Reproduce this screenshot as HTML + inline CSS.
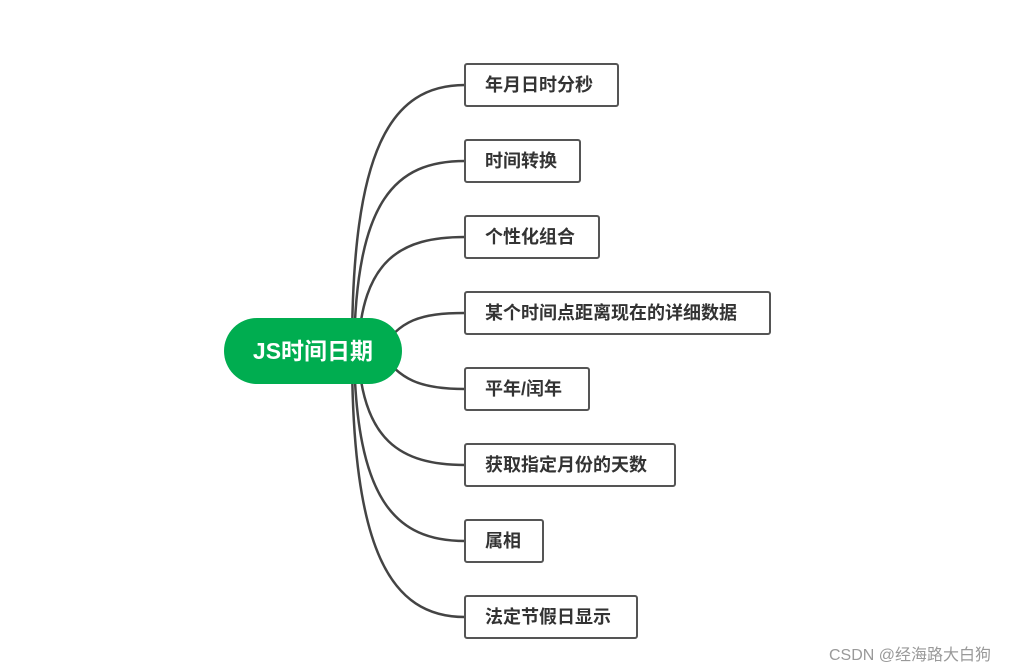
<!DOCTYPE html>
<html><head><meta charset="utf-8"><style>
body{margin:0;width:1035px;height:671px;background:#fff;position:relative;overflow:hidden;font-family:"Liberation Sans","Noto Sans CJK SC",sans-serif;}
.b{position:absolute;left:464px;height:44px;border:2px solid #555;border-radius:3px;box-sizing:border-box;font-size:18px;font-weight:bold;color:#333;line-height:40px;padding-left:19px;background:#fff}
.c{position:absolute;left:224px;top:318px;width:178px;height:66px;border-radius:33px;background:#00ad50;color:#fff;font-size:23px;font-weight:bold;text-align:center;line-height:66px}
.w{position:absolute;left:829px;top:641px;font-size:16px;color:#999}
</style></head><body>
<svg width="1035" height="671" style="position:absolute;left:0;top:0" fill="none" stroke="#444" stroke-width="2.5">
<path d="M352 351 C352 150,390 85,465 85"/>
<path d="M354 351 C356 200,395 161,465 161"/>
<path d="M358 351 C362 260,400 237,465 237"/>
<path d="M380 351 C400 320,420 313,465 313"/>
<path d="M380 351 C400 380,420 389,465 389"/>
<path d="M358 351 C362 440,400 465,465 465"/>
<path d="M354 351 C356 500,395 541,465 541"/>
<path d="M352 351 C352 550,390 617,465 617"/>
</svg>
<div class="c">JS时间日期</div>
<div class="b" style="top:63px;width:155px">年月日时分秒</div>
<div class="b" style="top:139px;width:117px">时间转换</div>
<div class="b" style="top:215px;width:136px">个性化组合</div>
<div class="b" style="top:291px;width:307px">某个时间点距离现在的详细数据</div>
<div class="b" style="top:367px;width:126px">平年/闰年</div>
<div class="b" style="top:443px;width:212px">获取指定月份的天数</div>
<div class="b" style="top:519px;width:80px">属相</div>
<div class="b" style="top:595px;width:174px">法定节假日显示</div>
<div class="w">CSDN @经海路大白狗</div>
</body></html>
